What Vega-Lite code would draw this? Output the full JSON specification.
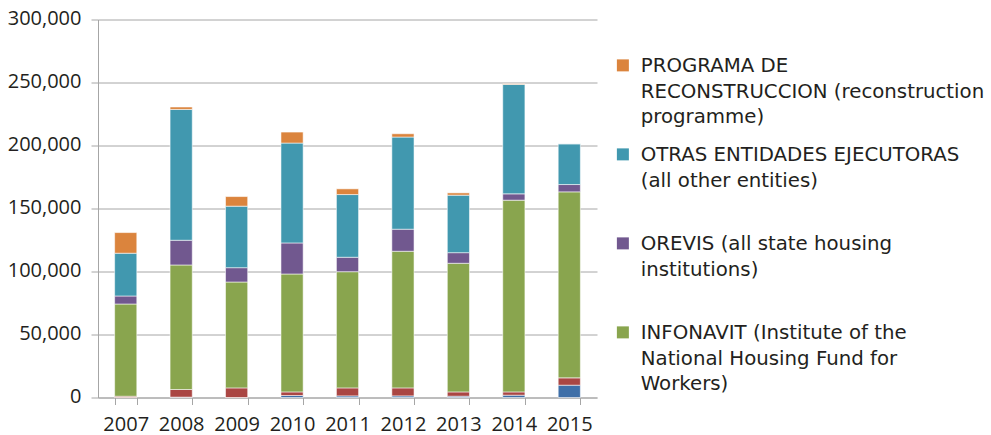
{
  "$schema": "https://vega.github.io/schema/vega-lite/v6.json",
  "width": 499,
  "height": 378,
  "padding": {"left": 0, "top": 8.5, "right": 0, "bottom": 0},
  "background": "white",
  "config": {
    "view": {"stroke": null},
    "font": "Open Sans",
    "style": {"guide-label": {"lineHeight": 25.5, "dy": -9}},
    "axis": {"labelFont": "Open Sans", "labelColor": "#231f20", "labelFontSize": 20, "labelLineHeight": 20},
    "legend": {"labelFont": "DejaVu Sans"}
  },
  "data": {
    "values": [
      {"year": "2007", "series": "Unlabelled (blue)", "value": 0},
      {"year": "2007", "series": "Unlabelled (red)", "value": 1000},
      {"year": "2007", "series": "INFONAVIT", "value": 73200},
      {"year": "2007", "series": "OREVIS", "value": 6360},
      {"year": "2007", "series": "OTRAS ENTIDADES EJECUTORAS", "value": 33950},
      {"year": "2007", "series": "PROGRAMA DE RECONSTRUCCION", "value": 16380},
      {"year": "2008", "series": "Unlabelled (blue)", "value": 300},
      {"year": "2008", "series": "Unlabelled (red)", "value": 6060},
      {"year": "2008", "series": "INFONAVIT", "value": 98820},
      {"year": "2008", "series": "OREVIS", "value": 19620},
      {"year": "2008", "series": "OTRAS ENTIDADES EJECUTORAS", "value": 103840},
      {"year": "2008", "series": "PROGRAMA DE RECONSTRUCCION", "value": 1910},
      {"year": "2009", "series": "Unlabelled (blue)", "value": 0},
      {"year": "2009", "series": "Unlabelled (red)", "value": 7630},
      {"year": "2009", "series": "INFONAVIT", "value": 84030},
      {"year": "2009", "series": "OREVIS", "value": 11370},
      {"year": "2009", "series": "OTRAS ENTIDADES EJECUTORAS", "value": 48820},
      {"year": "2009", "series": "PROGRAMA DE RECONSTRUCCION", "value": 7630},
      {"year": "2010", "series": "Unlabelled (blue)", "value": 1590},
      {"year": "2010", "series": "Unlabelled (red)", "value": 2860},
      {"year": "2010", "series": "INFONAVIT", "value": 93570},
      {"year": "2010", "series": "OREVIS", "value": 24650},
      {"year": "2010", "series": "OTRAS ENTIDADES EJECUTORAS", "value": 79260},
      {"year": "2010", "series": "PROGRAMA DE RECONSTRUCCION", "value": 8740},
      {"year": "2011", "series": "Unlabelled (blue)", "value": 1270},
      {"year": "2011", "series": "Unlabelled (red)", "value": 6360},
      {"year": "2011", "series": "INFONAVIT", "value": 92220},
      {"year": "2011", "series": "OREVIS", "value": 11450},
      {"year": "2011", "series": "OTRAS ENTIDADES EJECUTORAS", "value": 49770},
      {"year": "2011", "series": "PROGRAMA DE RECONSTRUCCION", "value": 4530},
      {"year": "2012", "series": "Unlabelled (blue)", "value": 1270},
      {"year": "2012", "series": "Unlabelled (red)", "value": 6360},
      {"year": "2012", "series": "INFONAVIT", "value": 108440},
      {"year": "2012", "series": "OREVIS", "value": 17490},
      {"year": "2012", "series": "OTRAS ENTIDADES EJECUTORAS", "value": 73140},
      {"year": "2012", "series": "PROGRAMA DE RECONSTRUCCION", "value": 2620},
      {"year": "2013", "series": "Unlabelled (blue)", "value": 1030},
      {"year": "2013", "series": "Unlabelled (red)", "value": 3420},
      {"year": "2013", "series": "INFONAVIT", "value": 102080},
      {"year": "2013", "series": "OREVIS", "value": 8420},
      {"year": "2013", "series": "OTRAS ENTIDADES EJECUTORAS", "value": 45640},
      {"year": "2013", "series": "PROGRAMA DE RECONSTRUCCION", "value": 1810},
      {"year": "2014", "series": "Unlabelled (blue)", "value": 1830},
      {"year": "2014", "series": "Unlabelled (red)", "value": 2620},
      {"year": "2014", "series": "INFONAVIT", "value": 152160},
      {"year": "2014", "series": "OREVIS", "value": 5010},
      {"year": "2014", "series": "OTRAS ENTIDADES EJECUTORAS", "value": 86880},
      {"year": "2014", "series": "PROGRAMA DE RECONSTRUCCION", "value": 500},
      {"year": "2015", "series": "Unlabelled (blue)", "value": 9780},
      {"year": "2015", "series": "Unlabelled (red)", "value": 5800},
      {"year": "2015", "series": "INFONAVIT", "value": 147630},
      {"year": "2015", "series": "OREVIS", "value": 5810},
      {"year": "2015", "series": "OTRAS ENTIDADES EJECUTORAS", "value": 32350},
      {"year": "2015", "series": "PROGRAMA DE RECONSTRUCCION", "value": 0}
    ]
  },
  "transform": [
    {"calculate": "indexof(['Unlabelled (blue)','Unlabelled (red)','INFONAVIT','OREVIS','OTRAS ENTIDADES EJECUTORAS','PROGRAMA DE RECONSTRUCCION'], datum.series)", "as": "stackOrder"}
  ],
  "mark": {"type": "bar", "stroke": "white", "strokeOpacity": 0.55, "strokeWidth": 1},
  "encoding": {
    "x": {
      "field": "year",
      "type": "ordinal",
      "scale": {"paddingInner": 0.6, "paddingOuter": 0.3},
      "axis": {
        "title": null,
        "labelAngle": 0,
        "tickBand": "extent",
        "tickSize": 7,
        "tickColor": "#a6a6a6",
        "domainColor": "#a6a6a6",
        "labelPadding": 19
      }
    },
    "y": {
      "field": "value",
      "type": "quantitative",
      "stack": "zero",
      "scale": {"domain": [0, 300000], "nice": false},
      "axis": {
        "title": null,
        "values": [0, 50000, 100000, 150000, 200000, 250000, 300000],
        "format": ",.0f",
        "grid": true,
        "gridColor": "#a6a6a6",
        "gridWidth": 1,
        "gridOpacity": 1,
        "domainColor": "#a6a6a6",
        "tickColor": "#a6a6a6",
        "tickSize": 7,
        "labelPadding": 10,
        "labelOffset": 8,
        "minExtent": 98,
        "maxExtent": 98
      }
    },
    "order": {"field": "stackOrder", "type": "quantitative", "sort": "ascending"},
    "color": {
      "field": "series",
      "type": "nominal",
      "scale": {
        "domain": ["PROGRAMA DE RECONSTRUCCION", "OTRAS ENTIDADES EJECUTORAS", "OREVIS", "INFONAVIT", "Unlabelled (red)", "Unlabelled (blue)"],
        "range": ["#db843d", "#4198af", "#71588f", "#89a54e", "#aa4643", "#3f6fa8"]
      },
      "legend": {
        "title": null,
        "orient": "none",
        "legendX": 515,
        "legendY": 36,
        "padding": 0,
        "values": ["PROGRAMA DE RECONSTRUCCION", "OTRAS ENTIDADES EJECUTORAS", "OREVIS", "INFONAVIT"],
        "symbolType": "square",
        "symbolSize": 144,
        "symbolStrokeWidth": 0,
        "labelFontSize": 19.75,
        "labelColor": "#231f20",
        "labelOffset": 8,
        "labelLimit": 400,
        "labelBaseline": "top",
        "rowPadding": 17,
        "labelExpr": "datum.label == 'PROGRAMA DE RECONSTRUCCION' ? ['PROGRAMA DE', 'RECONSTRUCCION (reconstruction', 'programme)'] : datum.label == 'OTRAS ENTIDADES EJECUTORAS' ? ['OTRAS ENTIDADES EJECUTORAS', '(all other entities)', ''] : datum.label == 'OREVIS' ? ['OREVIS (all state housing', 'institutions)', ''] : ['INFONAVIT (Institute of the', 'National Housing Fund for', 'Workers)']"
      }
    }
  }
}
